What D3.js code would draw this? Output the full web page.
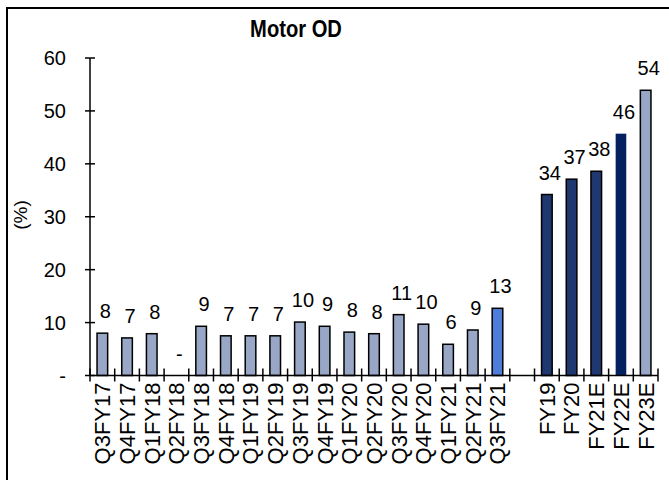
<!DOCTYPE html>
<html>
<head>
<meta charset="utf-8">
<script src="https://cdn.jsdelivr.net/npm/d3@7.9.0/dist/d3.min.js"></script>
<style>
  html, body { margin: 0; background: #fff; overflow: hidden; }
  svg { display: block; font-family: "Liberation Sans", Arial, sans-serif; }
</style>
</head>
<body>
<div id="chart"></div>
<script>
const categories = [
  "Q3FY17", "Q4FY17", "Q1FY18", "Q2FY18", "Q3FY18", "Q4FY18", "Q1FY19", "Q2FY19",
  "Q3FY19", "Q4FY19", "Q1FY20", "Q2FY20", "Q3FY20", "Q4FY20", "Q1FY21", "Q2FY21",
  "Q3FY21", "", "FY19", "FY20", "FY21E", "FY22E", "FY23E",
];
const values = [
  8.0, 7.1, 7.9, 0, 9.3, 7.5, 7.5, 7.5,
  10.1, 9.3, 8.2, 7.9, 11.5, 9.7, 5.9, 8.6,
  12.7, null, 34.2, 37.1, 38.6, 45.7, 53.9,
];
const labels = [
  "8", "7", "8", "-", "9", "7", "7", "7",
  "10", "9", "8", "8", "11", "10", "6", "9",
  "13", "", "34", "37", "38", "46", "54",
];
const yTicks = [0, 10, 20, 30, 40, 50, 60];

const light = "#98a7c6";
const barColors = categories.map((c) => {
  if (c === "Q3FY21") return "#4d7dd8";
  if (c === "FY19" || c === "FY20" || c === "FY21E") return "#1f386f";
  if (c === "FY22E") return "#03215e";
  return light;
});

const width = 669;
const height = 480;
const plot = { left: 90, right: 658, top: 58, bottom: 375.5 };

const svg = d3.select("#chart").append("svg")
  .attr("width", width).attr("height", height);

// outer frame: only the left and top edges are inside the picture
svg.append("path")
  .attr("d", `M7,${height} V8 H${width}`)
  .attr("fill", "none").attr("stroke", "#000").attr("stroke-width", 2);

const x = d3.scaleBand().domain(d3.range(categories.length))
  .range([plot.left, plot.right]).padding(0);
const y = d3.scaleLinear().domain([0, 60]).range([plot.bottom, plot.top]);
const barW = x.bandwidth() * 0.43;

svg.append("text")
  .attr("transform", "translate(296,37) scale(0.84,1)")
  .attr("text-anchor", "middle")
  .attr("font-size", 24).attr("font-weight", "bold")
  .text("Motor OD");

// y axis
const yAxis = svg.append("g").attr("transform", `translate(${plot.left},0)`);
yAxis.append("line")
  .attr("y1", y(60)).attr("y2", y(0)).attr("stroke", "#000").attr("stroke-width", 1.5);
yAxis.selectAll("line.tick").data(yTicks).join("line")
  .attr("class", "tick")
  .attr("x1", -5).attr("x2", 5)
  .attr("y1", (d) => y(d)).attr("y2", (d) => y(d))
  .attr("stroke", "#000").attr("stroke-width", 1.5);
yAxis.selectAll("text").data(yTicks).join("text")
  .attr("x", -24).attr("y", (d) => y(d))
  .attr("dy", "0.36em")
  .attr("text-anchor", "end")
  .attr("font-size", 20)
  .text((d) => (d === 0 ? "-" : d));

svg.append("text")
  .attr("transform", "translate(27,215) rotate(-90)")
  .attr("text-anchor", "middle")
  .attr("font-size", 19)
  .text("(%)");

// bars
const idx = d3.range(categories.length).filter((i) => values[i] !== null);
svg.append("g").selectAll("rect").data(idx).join("rect")
  .attr("x", (i) => x(i) + (x.bandwidth() - barW) / 2)
  .attr("width", barW)
  .attr("y", (i) => y(values[i]))
  .attr("height", (i) => y(0) - y(values[i]))
  .attr("fill", (i) => barColors[i])
  .attr("stroke", (i) => (categories[i] === "FY22E" ? "none" : "#000"))
  .attr("stroke-width", 1.5);

// value labels
svg.append("g").selectAll("text").data(idx).join("text")
  .attr("x", (i) => x(i) + x.bandwidth() / 2 + 3)
  .attr("y", (i) => y(values[i]) - 15)
  .attr("text-anchor", "middle")
  .attr("font-size", 20)
  .text((i) => labels[i]);

// x axis
const xAxis = svg.append("g").attr("transform", `translate(0,${plot.bottom})`);
xAxis.append("line")
  .attr("x1", plot.left).attr("x2", plot.right)
  .attr("stroke", "#000").attr("stroke-width", 1.5);
xAxis.selectAll("line.tick").data(d3.range(categories.length + 1)).join("line")
  .attr("class", "tick")
  .attr("x1", (i) => plot.left + i * x.step()).attr("x2", (i) => plot.left + i * x.step())
  .attr("y1", -7).attr("y2", 6)
  .attr("stroke", "#000").attr("stroke-width", 1.5);
xAxis.selectAll("text").data(d3.range(categories.length)).join("text")
  .attr("transform", (i) => `translate(${x(i) + x.bandwidth() / 2},7) rotate(-90)`)
  .attr("dy", "0.36em")
  .attr("text-anchor", "end")
  .attr("font-size", 22)
  .text((i) => categories[i]);
</script>
</body>
</html>
